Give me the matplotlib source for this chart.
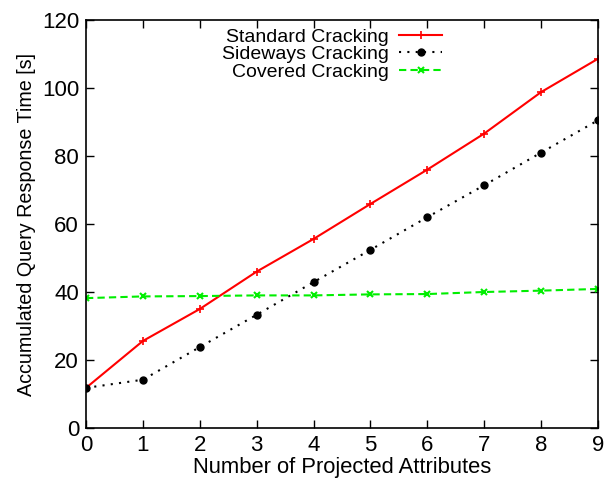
import matplotlib
matplotlib.use("Agg")
import matplotlib.pyplot as plt

attributes = [0, 1, 2, 3, 4, 5, 6, 7, 8, 9]
standard = [11.8, 25.6, 35.0, 46.0, 55.6, 65.9, 76.0, 86.6, 98.8, 108.6]
sideways = [11.8, 14.2, 23.8, 33.3, 42.9, 52.4, 62.0, 71.4, 81.0, 90.5]
covered = [38.2, 38.7, 38.8, 39.0, 39.0, 39.3, 39.4, 40.0, 40.4, 40.9]

plt.rcParams['font.family'] = ['Liberation Sans', 'DejaVu Sans']

fig = plt.figure(figsize=(6.05, 4.8), dpi=100)
ax = fig.add_axes([86/605, 52/480, 512/605, 408/480])

ax.plot(attributes, standard, color='#ff0000', lw=1.5, marker='+', ms=6, mew=1.2,
        label='Standard Cracking')
ax.plot(attributes, sideways, color='black', lw=1.5, ls=(0, (1, 3)), marker='o', ms=5,
        label='Sideways Cracking')
ax.plot(attributes, covered, color='#00ee00', lw=1.5, ls=(0, (3.5, 2)), marker='x', ms=5, mew=1.5,
        label='Covered Cracking')

ax.set_xlim(0, 9)
ax.set_ylim(0, 120)
ax.set_xticks(range(0, 10))
ax.set_yticks(range(0, 121, 20))
ax.tick_params(direction='in', length=6, width=1, top=True, right=True,
               labelsize=16, pad=5)
for s in ax.spines.values():
    s.set_linewidth(1.2)

ax.set_xlabel('Number of Projected Attributes', fontsize=15.8, labelpad=1)
ax.set_ylabel('Accumulated Query Response Time [s]', fontsize=14.2, labelpad=4)

ax.legend(loc='upper right', bbox_to_anchor=(442/605, 1 - 28/480),
          bbox_transform=fig.transFigure, frameon=False,
          markerfirst=False, numpoints=1, fontsize=14, handlelength=2.2,
          handletextpad=0.55, labelspacing=0.0, borderpad=0.0, borderaxespad=0)

fig.savefig('out.png', dpi=100)
